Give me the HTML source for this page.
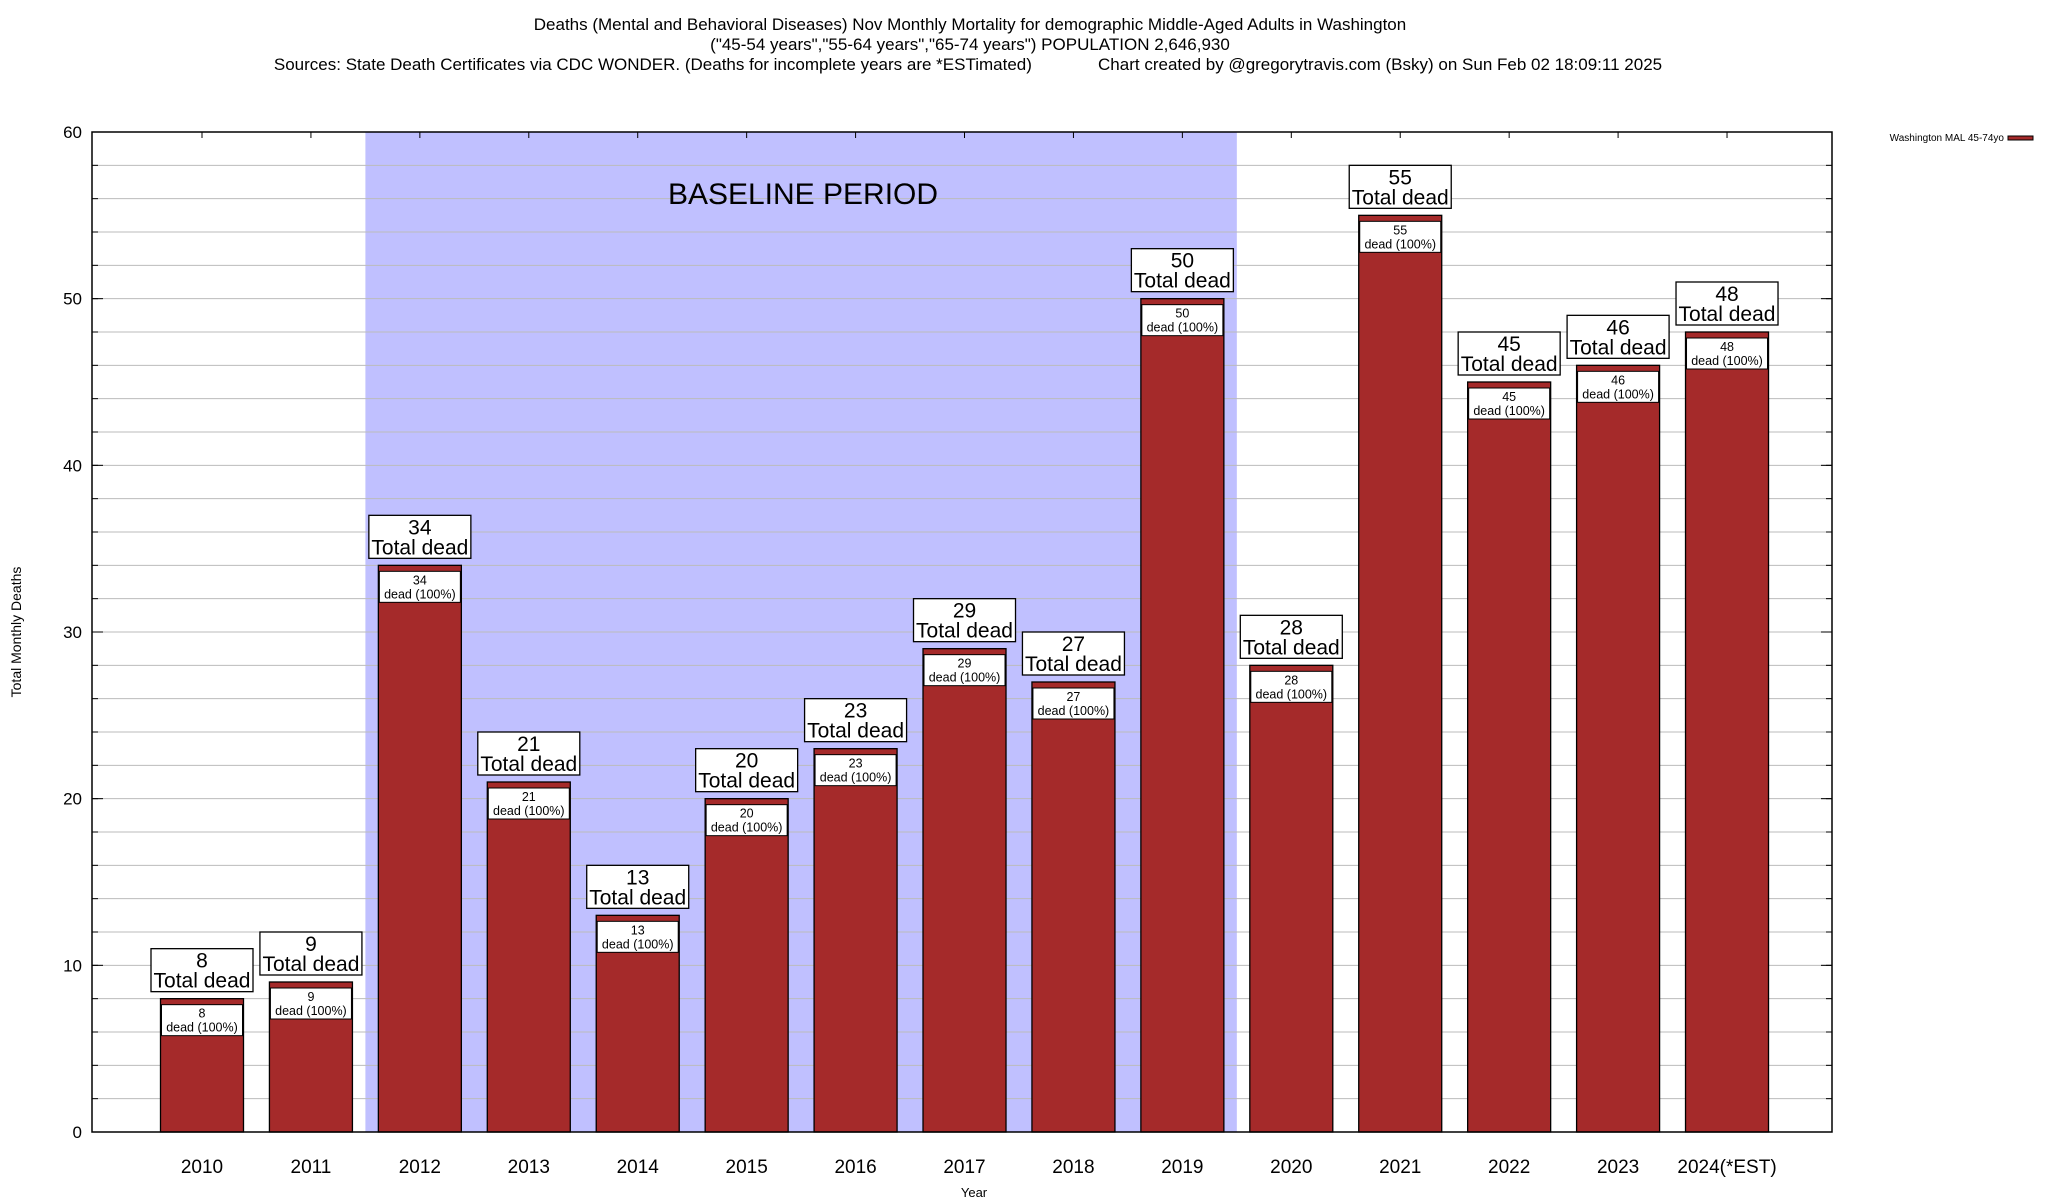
<!DOCTYPE html>
<html><head><meta charset="utf-8"><style>
html,body{margin:0;padding:0;background:#fff;}
svg{display:block;font-family:"Liberation Sans",sans-serif;}
</style></head><body>
<svg id="chart" width="2048" height="1200" viewBox="0 0 2048 1200" xmlns="http://www.w3.org/2000/svg">
<g font-size="17" text-anchor="middle" fill="#000">
<text x="970" y="30">Deaths (Mental and Behavioral Diseases) Nov Monthly Mortality for demographic Middle-Aged Adults in Washington</text>
<text x="970" y="50">("45-54 years","55-64 years","65-74 years") POPULATION 2,646,930</text>
<text x="968" y="70" xml:space="preserve">Sources: State Death Certificates via CDC WONDER. (Deaths for incomplete years are *ESTimated)              Chart created by @gregorytravis.com (Bsky) on Sun Feb 02 18:09:11 2025</text>
</g>
<g id="plot"></g>
</svg>
<script>
const categories=["2010","2011","2012","2013","2014","2015","2016","2017","2018","2019","2020","2021","2022","2023","2024(*EST)"];
const deaths=[8,9,34,21,13,20,23,29,27,50,28,55,45,46,48];
const yTicks=[0,10,20,30,40,50,60];
const baselineStart=2, baselineEnd=9;

const NS="http://www.w3.org/2000/svg";
const L=92,R=1832,T=132,B=1132,yMax=60;
const step=108.93, x0=202, bw=83;
const xs=i=>x0+step*i;
const ys=v=>B-(v/yMax)*(B-T);
const g=document.getElementById('plot');
function mk(tag,attrs,parent,text){const e=document.createElementNS(NS,tag);for(const k in attrs)e.setAttribute(k,attrs[k]);if(text!==undefined)e.textContent=text;(parent||g).appendChild(e);return e;}

// baseline shading
const shade=mk('rect',{x:(xs(baselineStart)+xs(baselineStart-1))/2,y:T,width:(xs(baselineEnd)+step/2)-(xs(baselineStart)-step/2),height:B-T,fill:'#c0c0ff'});


// grid lines every 2
for(let v=2;v<yMax;v+=2){
 const ln=mk('line',{x1:L,x2:R,y1:ys(v),y2:ys(v),stroke:'#bbb','stroke-width':1});
 
 
 mk('line',{x1:L,x2:L+6,y1:ys(v),y2:ys(v),stroke:'#000'});
 mk('line',{x1:R-6,x2:R,y1:ys(v),y2:ys(v),stroke:'#000'});
}
const bl=mk('text',{x:803,y:204,'font-size':30,'text-anchor':'middle'},g,'BASELINE PERIOD');


// y ticks
yTicks.forEach(v=>{
 const t=mk('text',{x:82,y:ys(v)+6,'font-size':17,'text-anchor':'end'},g,String(v));
 
 
 mk('line',{x1:L,x2:L+11,y1:ys(v),y2:ys(v),stroke:'#000'});
 mk('line',{x1:R-11,x2:R,y1:ys(v),y2:ys(v),stroke:'#000'});
});
// bars
categories.forEach((c,i)=>{
 const v=deaths[i],cx=xs(i),top=ys(v);
 const bar=mk('rect',{x:cx-bw/2,y:top,width:bw,height:B-top,fill:'#a52a2a',stroke:'#000','stroke-width':1.3});
 
 
 const ib=mk('rect',{x:cx-bw/2+1,y:top+6,width:bw-2,height:31,fill:'#fff',stroke:'#000','stroke-width':1});
 
 
 mk('text',{x:cx,y:top+19,'font-size':12.5,'text-anchor':'middle'},g,String(v));
 mk('text',{x:cx,y:top+33,'font-size':12.5,'text-anchor':'middle'},g,'dead (100%)');
 const ob=mk('rect',{x:cx-51,y:top-50,width:102,height:43,fill:'#fff',stroke:'#000','stroke-width':1.3});
 
 
 const t1=mk('text',{x:cx,y:top-31,'font-size':21,'text-anchor':'middle'},g,String(v));
 
 
 mk('text',{x:cx,y:top-11,'font-size':21,'text-anchor':'middle'},g,'Total dead');
 const xl=mk('text',{x:cx,y:1173,'font-size':19,'text-anchor':'middle'},g,c);
 
 
 mk('line',{x1:cx,x2:cx,y1:T,y2:T+6,stroke:'#000'});
});
// frame
const fr=mk('rect',{x:L,y:T,width:R-L,height:B-T,fill:'none',stroke:'#000','stroke-width':1.5});


const xt=mk('text',{x:974,y:1197,'font-size':13,'text-anchor':'middle'},g,'Year');


const yt=mk('text',{x:0,y:0,'font-size':14,'text-anchor':'middle',transform:'translate(21,632) rotate(-90)'},g,'Total Monthly Deaths');


const lg=mk('text',{x:2004,y:141,'font-size':10,'text-anchor':'end'},g,'Washington MAL 45-74yo');


const ls=mk('rect',{x:2008,y:136,width:25,height:4,fill:'#a52a2a',stroke:'#000','stroke-width':1});


</script>
</body></html>
